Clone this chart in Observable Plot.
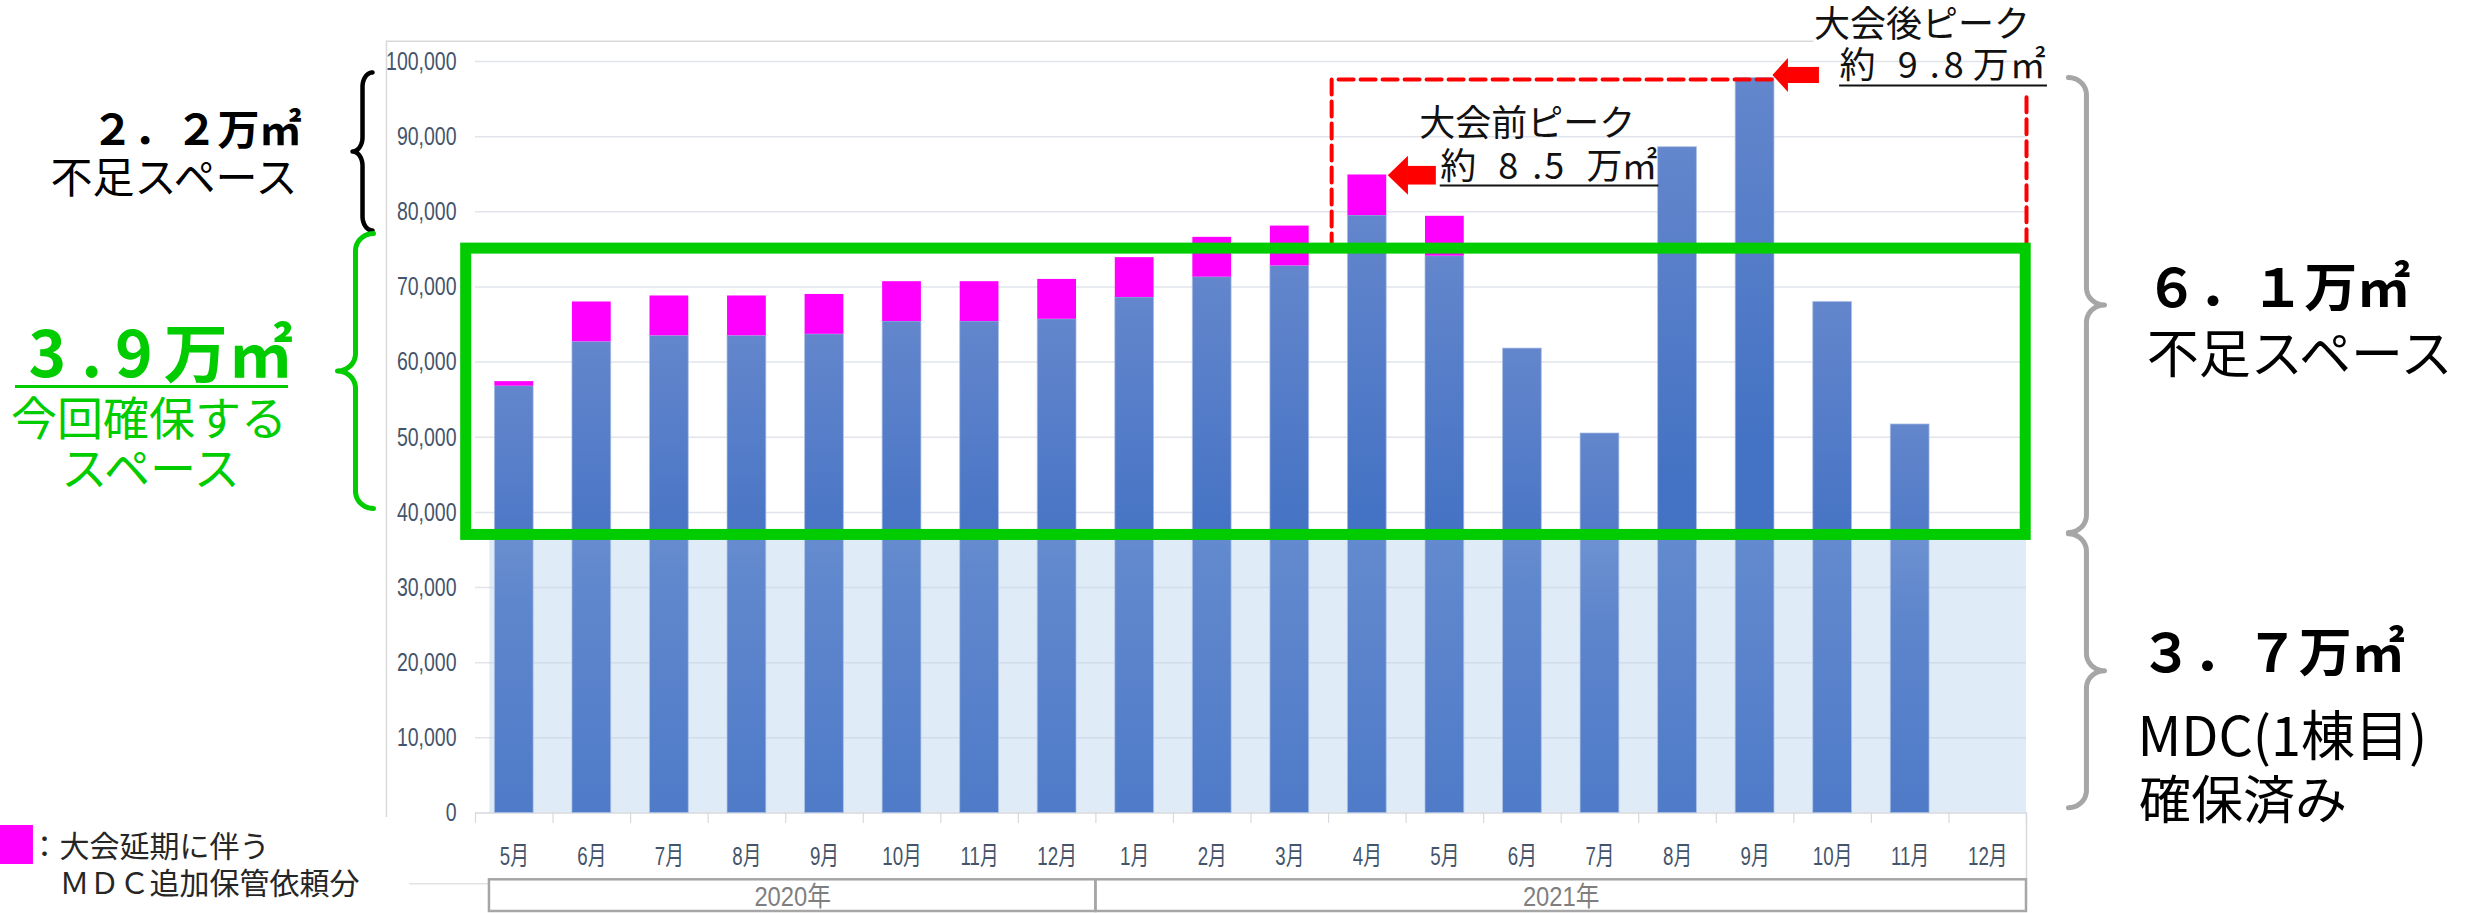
<!DOCTYPE html>
<html>
<head>
<meta charset="utf-8">
<script src="https://cdn.jsdelivr.net/npm/d3@7"></script>
<script src="https://cdn.jsdelivr.net/npm/@observablehq/plot@0.6"></script>
<style>
html,body{margin:0;padding:0;background:#fff;overflow:hidden}
#chart svg{display:block}
</style>
</head>
<body>
<div id="chart"></div>
<script>
// ---- data ----
const months = ["5月","6月","7月","8月","9月","10月","11月","12月",
                "1月","2月","3月","4月","5月","6月","7月","8月","9月","10月","11月","12月"];
const years = ["2020年","2021年"];
const yearFirstIndex = [0, 8];          // first month index of each year group
const baseArea  = [56800, 62700, 63500, 63500, 63700, 65400, 65400, 65700,
                   68600, 71300, 72800, 79500, 74100, 61800, 50500, 88600, 97800, 68000, 51700, 0];
const extraArea = [600, 5300, 5300, 5300, 5300, 5300, 5300, 5300,
                   5300, 5300, 5300, 5400, 5300, 0, 0, 0, 0, 0, 0, 0];
const yTicks = [0, 10000, 20000, 30000, 40000, 50000, 60000, 70000, 80000, 90000, 100000];
const securedLevel = 37000;      // MDC(1棟目) 確保済み
const targetLevel  = 75100;      // 今回確保する上限
const prePeak  = 84900;          // 大会前ピーク
const postPeak = 97600;          // 大会後ピーク

const rows = months.map((m, i) => ({i, m, base: baseArea[i], extra: extraArea[i]}));
const n = months.length;

// ---- helpers for annotation shapes ----
function brace(xa, xb, yTop, yBot, ry, k) {
  const rx = (xb - xa) / 2, yMid = (yTop + yBot) / 2, pts = [], N = 12;
  for (let j = 0; j <= N; j++) { const t = j / N * Math.PI / 2; pts.push({k, x: xa + rx * Math.sin(t), y: yTop - ry + ry * Math.cos(t)}); }
  for (let j = 0; j <= N; j++) { const t = j / N * Math.PI / 2; pts.push({k, x: xb - rx * Math.cos(t), y: yMid + ry - ry * Math.sin(t)}); }
  for (let j = 0; j <= N; j++) { const t = j / N * Math.PI / 2; pts.push({k, x: xb - rx * Math.sin(t), y: yMid - ry + ry * Math.cos(t)}); }
  for (let j = 0; j <= N; j++) { const t = j / N * Math.PI / 2; pts.push({k, x: xa + rx * Math.cos(t), y: yBot + ry - ry * Math.sin(t)}); }
  return pts;
}

const arrows = [
  {k: 0, tip: 11.27, base: 11.53, end: 11.89, yc: prePeak - 100, hh: 2600, sh: 1240},
  {k: 1, tip: 16.23, base: 16.43, end: 16.83, yc: 98140, hh: 2260, sh: 1070}
];
const arrowHeads = arrows.flatMap(a => [{k: a.k, x: a.tip, y1: a.yc, y2: a.yc}, {k: a.k, x: a.base, y1: a.yc - a.hh, y2: a.yc + a.hh}]);

const dashed = [
  {s: 0, x: 10.54, y: targetLevel}, {s: 0, x: 10.54, y: postPeak}, {s: 0, x: 16.23, y: postPeak},
  {s: 1, x: 19.5, y: 95250}, {s: 1, x: 19.5, y: targetLevel}
];

const jp = "'Noto Sans CJK JP', 'Noto Sans', sans-serif";
const axisFont = "'Liberation Sans', 'Noto Sans CJK JP', sans-serif";
const fmt = d3.format(",");
const T = (x, y, t) => [{x, y, t}];
const yearX1 = k => k === 0 ? -0.32 : yearFirstIndex[k] - 0.5;
const yearX2 = k => k === years.length - 1 ? n - 0.5 : yearFirstIndex[k + 1] - 0.5;
const yearRows = years.map((t, k) => ({t, k}));

const plot = Plot.plot({
  width: 2479,
  height: 913,
  x: {type: "linear", domain: [-0.5, n - 0.5], range: [475, 2026], axis: null},
  y: {type: "linear", domain: [0, 100000], range: [812.5, 61], axis: null},
  style: {fontFamily: jp, background: "#fff", overflow: "visible"},
  marks: [
    // chart border
    Plot.ruleX([0], {x: () => -1.648, y1: () => -600, y2: () => 102700, stroke: "#D9D9D9", strokeWidth: 1.5}),
    Plot.ruleY([0], {y: () => 102700, x1: () => -1.648, x2: () => 16.76, stroke: "#D9D9D9", strokeWidth: 1.5}),
    Plot.ruleX([0], {x: () => n - 0.5, y1: () => 0, y2: () => -8889, stroke: "#D9D9D9", strokeWidth: 1.5}),
    Plot.ruleY([0], {y: () => -9400, x1: () => -1.35, x2: () => -0.32, stroke: "#E3E3E3", strokeWidth: 1.5}),
    // secured (light blue) region
    Plot.rect([0], {x1: () => -0.314, x2: () => n - 0.5, y1: () => 0, y2: () => securedLevel, fill: "#DFEBF7"}),
    // gridlines
    Plot.ruleY(yTicks.filter(d => d > 0), {y: d => d, x1: () => -0.5, x2: () => n - 0.5, stroke: "#BCC4D2", strokeOpacity: 0.45, strokeWidth: 1.5}),
    // axis line + ticks
    Plot.ruleY([0], {y: () => 0, x1: () => -0.5, x2: () => n - 0.5, stroke: "#D6D9DE", strokeWidth: 1.5}),
    Plot.ruleX(d3.range(n + 1), {x: d => d - 0.5, y1: () => 0, y2: () => -1400, stroke: "#D6D9DE", strokeWidth: 1.2}),
    // bars
    Plot.rect(rows.filter(d => d.base > 0), {x1: d => d.i - 0.25, x2: d => d.i + 0.25, y1: () => 0, y2: "base",
      fill: "url(#barGrad)", stroke: "#A9BEE6", strokeWidth: 1, strokeOpacity: 0.7}),
    Plot.rect(rows.filter(d => d.extra > 0), {x1: d => d.i - 0.25, x2: d => d.i + 0.25, y1: "base", y2: d => d.base + d.extra, fill: "#FF00FF"}),
    // overlay of the secured area
    Plot.rect([0], {x1: () => -0.314, x2: () => n - 0.5, y1: () => 0, y2: () => securedLevel, fill: "url(#ovGrad)"}),
    // red dashed peak box
    Plot.line(dashed, {x: "x", y: "y", z: "s", stroke: "#FF0000", strokeWidth: 4, strokeDasharray: "15,7"}),
    // green box
    Plot.rect([0], {x1: () => -0.62, x2: () => 19.49, y1: () => securedLevel, y2: () => targetLevel, fill: "none", stroke: "#00CC00", strokeWidth: 11}),
    // red arrows
    Plot.areaY(arrowHeads, {x: "x", y1: "y1", y2: "y2", z: "k", fill: "#FF0000"}),
    Plot.rect(arrows, {x1: d => d.base - 0.01, x2: "end", y1: d => d.yc - d.sh, y2: d => d.yc + d.sh, fill: "#FF0000"}),
    // peak annotations
    Plot.text(T(11.67, 91620, "大会前ピーク"), {x: "x", y: "y", text: "t", textAnchor: "start", lineAnchor: "middle", fontSize: 36, fill: "#111"}),
    Plot.text(T(11.94, 85960, "約 8.5 万㎡"), {x: "x", y: "y", text: "t", textAnchor: "start", lineAnchor: "middle", fontSize: 36, fill: "#111"}),
    Plot.ruleY([0], {y: () => 83500, x1: () => 11.94, x2: () => 14.76, stroke: "#111", strokeWidth: 2}),
    Plot.text(T(16.76, 104790, "大会後ピーク"), {x: "x", y: "y", text: "t", textAnchor: "start", lineAnchor: "middle", fontSize: 36, fill: "#111"}),
    Plot.text(T(17.09, 99330, "約 9.8万㎡"), {x: "x", y: "y", text: "t", textAnchor: "start", lineAnchor: "middle", fontSize: 36, fill: "#111"}),
    Plot.ruleY([0], {y: () => 96800, x1: () => 17.09, x2: () => 19.77, stroke: "#111", strokeWidth: 2}),
    // braces
    Plot.line(brace(-1.828, -2.086, 98540, 77510, 1900, 0), {x: "x", y: "y", stroke: "#000", strokeWidth: 4.5}),
    Plot.line(brace(-1.815, -2.28, 77110, 40520, 2300, 0), {x: "x", y: "y", stroke: "#00CC00", strokeWidth: 5}),
    Plot.line([...brace(20.04, 20.506, 97870, 37330, 2300, 0), ...brace(20.04, 20.506, 37150, 700, 2300, 1)], {x: "x", y: "y", z: "k", stroke: "#A6A6A6", strokeWidth: 5}),
    // left annotations
    Plot.text(T(-5.452, 90685, "２．２万㎡"), {x: "x", y: "y", text: "t", textAnchor: "start", lineAnchor: "middle", fontSize: 42, fontWeight: "bold", fill: "#000"}),
    Plot.text(T(-5.98, 84300, "不足スペース"), {x: "x", y: "y", text: "t", textAnchor: "start", lineAnchor: "middle", fontSize: 42, fill: "#000"}),
    Plot.text(T(-6.264, 60680, "3.9万㎡"), {x: "x", y: "y", text: "t", textAnchor: "start", lineAnchor: "middle", fontSize: 64, fontWeight: "bold", fill: "#00CC00"}),
    Plot.ruleY([0], {y: () => 56750, x1: () => -6.432, x2: () => -2.911, stroke: "#00CC00", strokeWidth: 3}),
    Plot.text(T(-4.71, 52230, "今回確保する"), {x: "x", y: "y", text: "t", textAnchor: "middle", lineAnchor: "middle", fontSize: 46, fill: "#00CC00"}),
    Plot.text(T(-4.69, 45575, "スペース"), {x: "x", y: "y", text: "t", textAnchor: "middle", lineAnchor: "middle", fontSize: 46, fill: "#00CC00"}),
    // right annotations
    Plot.text(T(21.03, 69530, "６．１万㎡"), {x: "x", y: "y", text: "t", textAnchor: "start", lineAnchor: "middle", fontSize: 53, fontWeight: "bold", fill: "#000"}),
    Plot.text(T(21.05, 60750, "不足スペース"), {x: "x", y: "y", text: "t", textAnchor: "start", lineAnchor: "middle", fontSize: 52, fill: "#000"}),
    Plot.text(T(20.96, 20960, "３．７万㎡"), {x: "x", y: "y", text: "t", textAnchor: "start", lineAnchor: "middle", fontSize: 53, fontWeight: "bold", fill: "#000"}),
    Plot.text(T(20.93, 9900, "MDC(1棟目)"), {x: "x", y: "y", text: "t", textAnchor: "start", lineAnchor: "middle", fontSize: 54, fill: "#000"}),
    Plot.text(T(20.95, 1460, "確保済み"), {x: "x", y: "y", text: "t", textAnchor: "start", lineAnchor: "middle", fontSize: 52, fill: "#000"}),
    // legend
    Plot.rect([0], {x1: () => -6.625, x2: () => -6.2, y1: () => -1663, y2: () => -6853, fill: "#FF00FF"}),
    Plot.text(T(-6.251, -4524, "：大会延期に伴う"), {x: "x", y: "y", text: "t", textAnchor: "start", lineAnchor: "middle", fontSize: 30, fill: "#262626"}),
    Plot.text(T(-5.864, -9448, "ＭＤＣ追加保管依頼分"), {x: "x", y: "y", text: "t", textAnchor: "start", lineAnchor: "middle", fontSize: 30, fill: "#262626"}),
    // y tick labels
    Plot.text(yTicks, {x: () => -0.5, y: d => d, text: d => fmt(d), textAnchor: "end", lineAnchor: "middle", dx: -19,
      fontSize: 26, fill: "#44546A", fontFamily: axisFont}),
    // month labels
    Plot.text(rows, {x: "i", y: () => -5788, text: "m", textAnchor: "middle", lineAnchor: "middle",
      fontSize: 26, fill: "#44546A", fontFamily: axisFont}),
    // year groups
    Plot.rect(yearRows, {x1: d => yearX1(d.k), x2: d => yearX2(d.k),
      y1: () => -8889, y2: () => -13107, fill: "none", stroke: "#A6A6A6", strokeWidth: 2.5}),
    Plot.text(yearRows, {x: d => (yearX1(d.k) + yearX2(d.k)) / 2,
      y: () => -11244, text: "t", textAnchor: "middle", lineAnchor: "middle", fontSize: 27, fill: "#7F7F7F", fontFamily: axisFont})
  ]
});

// gradients
const ns = "http://www.w3.org/2000/svg";
const defs = document.createElementNS(ns, "defs");
defs.innerHTML = `
  <linearGradient id="barGrad" x1="0" y1="0" x2="0" y2="1">
    <stop offset="0" stop-color="#6386CC"/>
    <stop offset="0.5" stop-color="#4472C4"/>
    <stop offset="1" stop-color="#4472C4"/>
  </linearGradient>
  <linearGradient id="ovGrad" x1="0" y1="0" x2="0" y2="1">
    <stop offset="0" stop-color="#DFEBF7" stop-opacity="0.2"/>
    <stop offset="1" stop-color="#DFEBF7" stop-opacity="0.07"/>
  </linearGradient>`;
plot.insertBefore(defs, plot.firstChild);

// condensed axis text (the original chart image is narrowed) and wide character spacing of annotations
const monthSet = new Set(months);
const tickSet = new Set(yTicks.map(fmt));
const yearSet = new Set(years);
const charShift = {
  "約 8.5 万㎡": [0, 0, 14, 14, 2, 0, 14, -1],
  "約 9.8万㎡": [0, 0, 14, 12, 4, 9, 1],
  "3.9万㎡": [0, 15, 13, 11, 1]
};
plot.querySelectorAll("text").forEach(t => {
  const s = t.textContent;
  let k = null;
  if (monthSet.has(s)) k = 0.72;
  else if (tickSet.has(s)) k = 0.75;
  else if (yearSet.has(s)) k = 0.88;
  if (k !== null) {
    const tr = t.getAttribute("transform") || "";
    t.setAttribute("transform", tr + ` scale(${k},1)`);
  }
  const dxs = charShift[s];
  if (dxs) {
    t.textContent = "";
    t.style.whiteSpace = "pre";
    [...s].forEach((ch, i) => {
      const ts = document.createElementNS(ns, "tspan");
      if (dxs[i]) ts.setAttribute("dx", dxs[i]);
      ts.textContent = ch;
      t.appendChild(ts);
    });
  }
});

document.getElementById("chart").appendChild(plot);
</script>
</body>
</html>
